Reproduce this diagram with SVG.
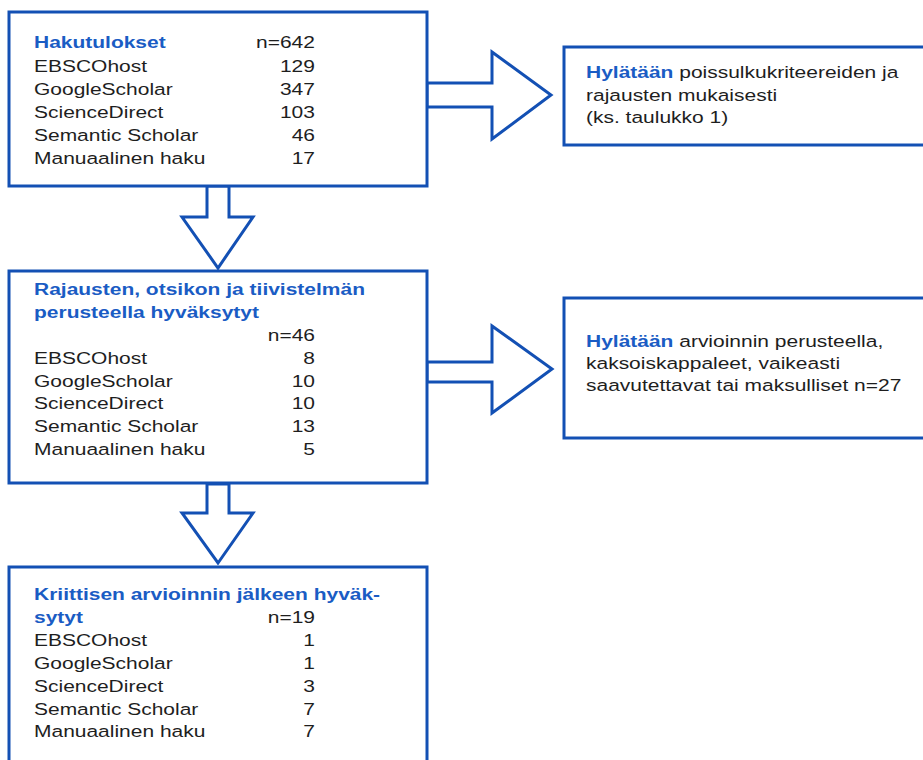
<svg xmlns="http://www.w3.org/2000/svg" width="923" height="760" viewBox="0 0 923 760">
<style>
.box{fill:#fff;stroke:#1350b4;stroke-width:3}
.arr{fill:#fff;stroke:#1350b4;stroke-width:3;stroke-linejoin:miter}
text{font-family:"Liberation Sans",Arial,sans-serif;font-size:17.2px;fill:#1e1e1e}
.t{font-weight:bold;fill:#1a5cc4}
.n{text-anchor:end}
</style>
<rect width="923" height="760" fill="#fff"/>
<g id="connectors">
<polygon class="arr" points="207,186 229,186 229,217 253,217 218,268 182,217 207,217"/>
<polygon class="arr" points="207,484 229,484 229,513 253,513 218,563 182,513 207,513"/>
<polygon class="arr" points="427,83 492,83 492,52 551,95 492,139 492,107 427,107"/>
<polygon class="arr" points="427,362 492,362 492,326 552,369 492,413 492,382 427,382"/>
</g>
<g id="hakutulokset">
<rect class="box" x="9" y="12" width="418" height="174"/>
<g transform="translate(34 0) scale(1.22 1)">
<text class="t" x="0" y="48">Hakutulokset</text>
<text class="n" x="230.3" y="48">n=642</text>
<text x="0" y="72">EBSCOhost</text><text class="n" x="230.3" y="72">129</text>
<text x="0" y="95">GoogleScholar</text><text class="n" x="230.3" y="95">347</text>
<text x="0" y="118">ScienceDirect</text><text class="n" x="230.3" y="118">103</text>
<text x="0" y="141">Semantic Scholar</text><text class="n" x="230.3" y="141">46</text>
<text x="0" y="164">Manuaalinen haku</text><text class="n" x="230.3" y="164">17</text>
</g>
</g>
<g id="hylataan1">
<rect class="box" x="564" y="47" width="370" height="98"/>
<g transform="translate(586 0) scale(1.22 1)">
<text x="0" y="78"><tspan class="t">Hylätään</tspan> poissulkukriteereiden ja</text>
<text x="0" y="101">rajausten mukaisesti</text>
<text x="0" y="123">(ks. taulukko 1)</text>
</g>
</g>
<g id="rajausten">
<rect class="box" x="9" y="271" width="418" height="212"/>
<g transform="translate(34 0) scale(1.22 1)">
<text class="t" x="0" y="295">Rajausten, otsikon ja tiivistelmän</text>
<text class="t" x="0" y="318">perusteella hyväksytyt</text>
<text class="n" x="230.3" y="341">n=46</text>
<text x="0" y="364">EBSCOhost</text><text class="n" x="230.3" y="364">8</text>
<text x="0" y="387">GoogleScholar</text><text class="n" x="230.3" y="387">10</text>
<text x="0" y="409">ScienceDirect</text><text class="n" x="230.3" y="409">10</text>
<text x="0" y="432">Semantic Scholar</text><text class="n" x="230.3" y="432">13</text>
<text x="0" y="455">Manuaalinen haku</text><text class="n" x="230.3" y="455">5</text>
</g>
</g>
<g id="hylataan2">
<rect class="box" x="564" y="298" width="370" height="140"/>
<g transform="translate(586 0) scale(1.22 1)">
<text x="0" y="347"><tspan class="t">Hylätään</tspan> arvioinnin perusteella,</text>
<text x="0" y="369">kaksoiskappaleet, vaikeasti</text>
<text x="0" y="391">saavutettavat tai maksulliset n=27</text>
</g>
</g>
<g id="kriittisen">
<rect class="box" x="9" y="567" width="418" height="210"/>
<g transform="translate(34 0) scale(1.22 1)">
<text class="t" x="0" y="600">Kriittisen arvioinnin jälkeen hyväk-</text>
<text class="t" x="0" y="623">sytyt</text>
<text class="n" x="230.3" y="623">n=19</text>
<text x="0" y="646">EBSCOhost</text><text class="n" x="230.3" y="646">1</text>
<text x="0" y="669">GoogleScholar</text><text class="n" x="230.3" y="669">1</text>
<text x="0" y="692">ScienceDirect</text><text class="n" x="230.3" y="692">3</text>
<text x="0" y="715">Semantic Scholar</text><text class="n" x="230.3" y="715">7</text>
<text x="0" y="737">Manuaalinen haku</text><text class="n" x="230.3" y="737">7</text>
</g>
</g>
</svg>
